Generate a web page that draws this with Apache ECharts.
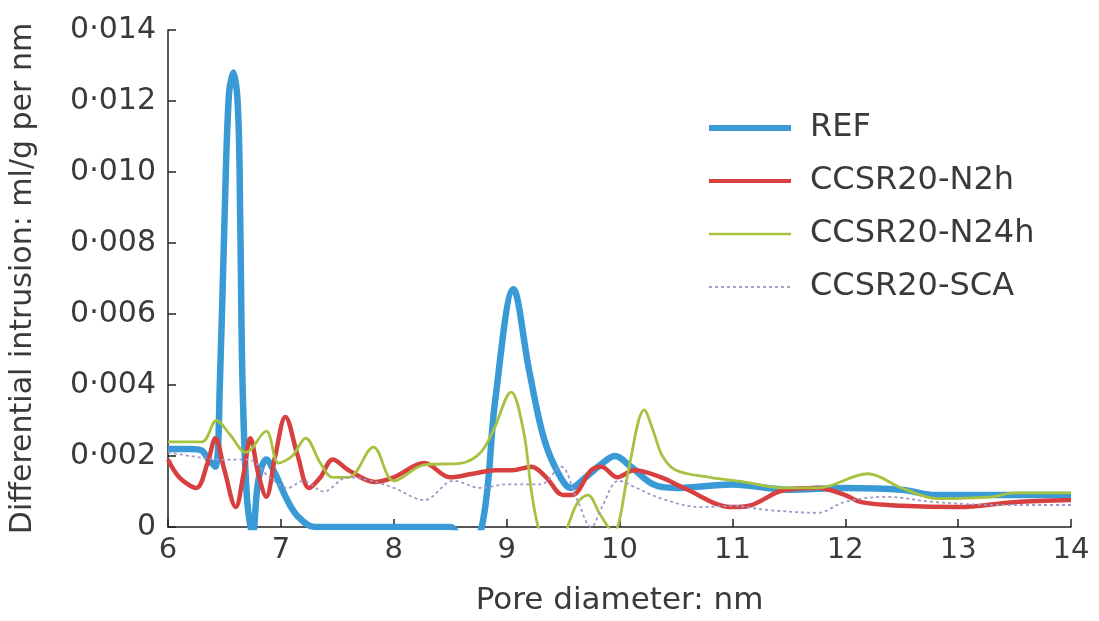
<!DOCTYPE html>
<html>
<head>
<meta charset="utf-8">
<script src="https://cdn.jsdelivr.net/npm/echarts@6/dist/echarts.min.js"></script>
<style>
html,body{margin:0;padding:0;background:#fff;}
#chart{width:1099px;height:621px;}
</style>
</head>
<body>
<div id="chart"></div>
<script>
// ---- data ----
var seriesNames = ['REF', 'CCSR20-N2h', 'CCSR20-N24h', 'CCSR20-SCA'];
var xTicks = [6, 7, 8, 9, 10, 11, 12, 13, 14];
var yTicks = [0, 0.002, 0.004, 0.006, 0.008, 0.010, 0.012, 0.014];
var yTickLabels = ['0', '0·002', '0·004', '0·006', '0·008', '0·010', '0·012', '0·014'];

var refX = [6.0, 6.2, 6.3, 6.36, 6.42, 6.46, 6.5, 6.54, 6.58, 6.62, 6.64, 6.66, 6.7, 6.75, 6.8, 6.87, 6.95, 7.05, 7.15, 7.3, 8.5, 8.62, 8.78, 8.9, 9.06, 9.2, 9.33, 9.46, 9.57, 9.7, 9.85, 9.96, 10.1, 10.3, 10.5, 11.0, 11.5, 12.0, 12.5, 12.8, 13.5, 14.0];
var refY = [0.0022, 0.0022, 0.00215, 0.0019, 0.0017, 0.0041, 0.0086, 0.0122, 0.0128, 0.0118, 0.0086, 0.0041, 0.0008, -0.0002, 0.0013, 0.0019, 0.0015, 0.0008, 0.0003, 0.0, 0.0, -0.0006, 0.0, 0.0036, 0.0067, 0.0044, 0.0025, 0.0015, 0.0011, 0.0014, 0.0018, 0.0020, 0.0017, 0.0012, 0.0011, 0.0012, 0.00105, 0.0011, 0.00105, 0.0009, 0.0009, 0.0009];

var n2hX = [6.0, 6.1, 6.25, 6.35, 6.42, 6.5, 6.6, 6.67, 6.73, 6.8, 6.87, 6.95, 7.04, 7.15, 7.25, 7.35, 7.46, 7.6, 7.83, 8.0, 8.27, 8.5, 8.7, 8.9, 9.05, 9.22, 9.35, 9.5, 9.58, 9.75, 9.84, 9.98, 10.13, 10.37, 10.57, 11.0, 11.15, 11.46, 11.76, 12.0, 12.14, 12.5, 13.0, 13.5, 14.0];
var n2hY = [0.0019, 0.0014, 0.0011, 0.0018, 0.0025, 0.0016, 0.00056, 0.0015, 0.0025, 0.0015, 0.00085, 0.002, 0.0031, 0.002, 0.0011, 0.0014, 0.0019, 0.0016, 0.00127, 0.0014, 0.0018, 0.0014, 0.0015, 0.0016, 0.0016, 0.0017, 0.0014, 0.0009, 0.0009, 0.0016, 0.0017, 0.0014, 0.0016, 0.0014, 0.0011, 0.00056, 0.0006, 0.00104, 0.0011, 0.0009, 0.0007, 0.0006, 0.00056, 0.0007, 0.00076];

var n24hX = [6.0, 6.3, 6.43, 6.55, 6.69, 6.87, 6.98, 7.1, 7.22, 7.35, 7.46, 7.6, 7.82, 8.0, 8.27, 8.6, 8.77, 8.88, 9.04, 9.15, 9.22, 9.28, 9.38, 9.47, 9.54, 9.63, 9.72, 9.82, 9.9, 9.95, 10.0, 10.08, 10.22, 10.3, 10.38, 10.5, 10.8, 11.1, 11.46, 11.76, 12.2, 12.5, 12.82, 13.3, 13.5, 14.0];
var n24hY = [0.0024, 0.0024, 0.0030, 0.0026, 0.0021, 0.0027, 0.0018, 0.0020, 0.0025, 0.0018, 0.0014, 0.0014, 0.00225, 0.0013, 0.00175, 0.0018, 0.0021, 0.0027, 0.0038, 0.0027, 0.0010, 0.0, -0.0008, -0.0006, 0.0, 0.0007, 0.0009, 0.0004, 0.0, -0.0002, 0.0002, 0.0016, 0.0033, 0.0027, 0.0020, 0.0016, 0.0014, 0.00127, 0.0011, 0.0011, 0.0015, 0.0011, 0.0008, 0.00085, 0.00096, 0.00096];

var scaX = [6.0, 6.2, 6.47, 6.71, 6.9, 7.06, 7.2, 7.38, 7.59, 7.8, 8.0, 8.27, 8.53, 8.77, 9.0, 9.3, 9.48, 9.62, 9.75, 9.85, 9.99, 10.15, 10.37, 10.72, 11.0, 11.31, 11.76, 11.99, 12.36, 12.8, 13.38, 14.0];
var scaY = [0.0021, 0.0020, 0.0019, 0.0019, 0.0014, 0.0011, 0.0013, 0.0010, 0.0014, 0.0013, 0.0011, 0.00076, 0.0013, 0.0011, 0.0012, 0.0012, 0.0017, 0.0008, 0.0, 0.0006, 0.0013, 0.0011, 0.0008, 0.00056, 0.0006, 0.00048, 0.0004, 0.0007, 0.00085, 0.0007, 0.00062, 0.00062];

function pairs(xs, ys) { return xs.map(function (x, i) { return [x, ys[i]]; }); }

var chart = echarts.init(document.getElementById('chart'), null, {renderer: 'canvas'});
var font = '"DejaVu Sans", "Open Sans", sans-serif';
var txt = '#3a3a3a';
var colors = ['#3a9ad6', '#d8403f', '#a5c240', '#9e98c8'];
var widths = [6.5, 4.5, 2.8, 1.8];

chart.setOption({
  animation: false,
  backgroundColor: '#ffffff',
  grid: {left: 168, right: 28, top: 30, bottom: 94, containLabel: false, outerBoundsMode: 'none'},
  legend: {
    orient: 'vertical',
    left: 701,
    top: 107,
    itemWidth: 82,
    itemHeight: 14,
    itemGap: 21,
    itemStyle: {opacity: 0},
    data: seriesNames.map(function (n, i) {
      return {name: n, lineStyle: {width: i === 3 ? 1.8 : widths[i] - 0.5, color: colors[i]}};
    }),
    textStyle: {fontFamily: font, fontSize: 32, color: txt, padding: [0, 0, 0, 14]}
  },
  xAxis: {
    type: 'value',
    min: 6, max: 14, interval: 1,
    name: 'Pore diameter: nm',
    nameLocation: 'middle',
    nameGap: 58,
    nameTextStyle: {fontFamily: font, fontSize: 31, color: txt},
    axisLine: {lineStyle: {color: '#222', width: 1.5}},
    axisTick: {inside: true, length: 8, lineStyle: {color: '#222', width: 1.5}},
    axisLabel: {fontFamily: font, fontSize: 29, color: txt, margin: 9},
    splitLine: {show: false}
  },
  yAxis: {
    type: 'value',
    min: 0, max: 0.014, interval: 0.002,
    name: 'Differential intrusion: ml/g per nm',
    nameLocation: 'middle',
    nameGap: 130,
    nameTextStyle: {fontFamily: font, fontSize: 30, color: txt},
    axisLine: {show: true, lineStyle: {color: '#222', width: 1.5}},
    axisTick: {show: true, inside: true, length: 8, lineStyle: {color: '#222', width: 1.5}},
    axisLabel: {
      fontFamily: font, fontSize: 30, color: txt, margin: 12,
      formatter: function (v) {
        var i = Math.round(v / 0.002);
        return yTickLabels[i] !== undefined ? yTickLabels[i] : '';
      }
    },
    splitLine: {show: false}
  },
  series: [
    {name: seriesNames[0], type: 'line', data: pairs(refX, refY), smooth: 0.35, symbol: 'none', z: 4,
     lineStyle: {color: colors[0], width: widths[0]}, itemStyle: {color: colors[0]}},
    {name: seriesNames[1], type: 'line', data: pairs(n2hX, n2hY), smooth: 0.35, symbol: 'none', z: 5,
     lineStyle: {color: colors[1], width: widths[1]}, itemStyle: {color: colors[1]}},
    {name: seriesNames[2], type: 'line', data: pairs(n24hX, n24hY), smooth: 0.35, symbol: 'none', z: 6,
     lineStyle: {color: colors[2], width: widths[2]}, itemStyle: {color: colors[2]}},
    {name: seriesNames[3], type: 'line', data: pairs(scaX, scaY), smooth: 0.35, symbol: 'none', z: 7,
     lineStyle: {color: colors[3], width: widths[3], type: [3, 3]}, itemStyle: {color: colors[3]}}
  ]
});
</script>
</body>
</html>
